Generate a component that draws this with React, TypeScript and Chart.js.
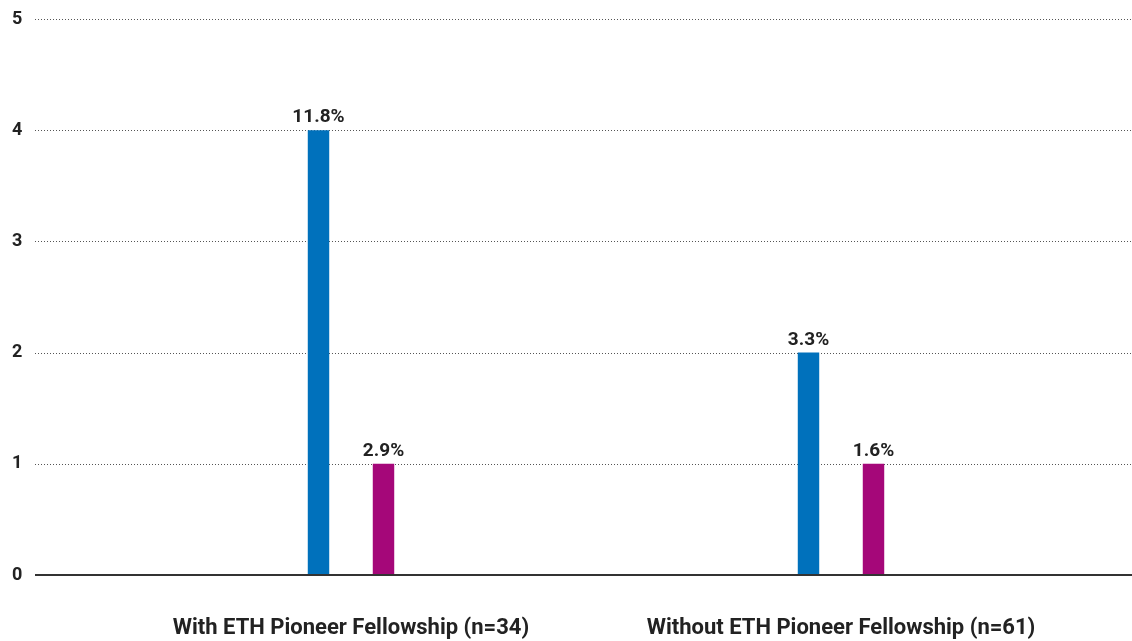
import React, { useEffect, useRef } from "react";
import { Chart, registerables } from "chart.js";

Chart.register(...registerables);

const categories = ["With ETH Pioneer Fellowship (n=34)", "Without ETH Pioneer Fellowship (n=61)"];
const blueValues = [4, 2];
const blueLabels = ["11.8%", "3.3%"];
const magentaValues = [1, 1];
const magentaLabels = ["2.9%", "1.6%"];
const yTicks = [0, 1, 2, 3, 4, 5];

const FONT = "Roboto";
const TEXT = "#222222";

const gridPlugin = {
  id: "customGrid",
  beforeDatasetsDraw(chart: any) {
    const { ctx } = chart;
    const y = chart.scales.y;
    ctx.save();
    ctx.strokeStyle = "#555555";
    ctx.lineWidth = 1;
    ctx.setLineDash([1, 2]);
    yTicks.forEach((t) => {
      if (t === 0) return;
      const py = Math.round(y.getPixelForValue(t)) + 0.5;
      ctx.beginPath();
      ctx.moveTo(35, py);
      ctx.lineTo(chart.width, py);
      ctx.stroke();
    });
    ctx.restore();
  },
  afterDatasetsDraw(chart: any) {
    const { ctx } = chart;
    const y = chart.scales.y;
    ctx.save();
    const py = y.getPixelForValue(0);
    ctx.strokeStyle = "#333333";
    ctx.lineWidth = 2;
    ctx.beginPath();
    ctx.moveTo(35, py);
    ctx.lineTo(chart.width, py);
    ctx.stroke();

    ctx.fillStyle = TEXT;
    ctx.font = `bold 19px ${FONT}`;
    ctx.textAlign = "center";
    ctx.textBaseline = "alphabetic";
    const allLabels = [blueLabels, magentaLabels];
    chart.data.datasets.forEach((_: any, di: number) => {
      const meta = chart.getDatasetMeta(di);
      meta.data.forEach((el: any, i: number) => {
        ctx.fillText(allLabels[di][i], el.x, el.y - 8);
      });
    });
    ctx.restore();
  },
};

export default function App() {
  const ref = useRef<HTMLCanvasElement>(null);
  useEffect(() => {
    if (!ref.current) return;
    const chart = new Chart(ref.current, {
      type: "bar",
      data: {
        labels: categories,
        datasets: [
          {
            data: blueValues,
            backgroundColor: "#0071BC",
            categoryPercentage: 0.2653,
            barPercentage: 0.33,
          },
          {
            data: magentaValues,
            backgroundColor: "#A50779",
            categoryPercentage: 0.2653,
            barPercentage: 0.33,
          },
        ],
      },
      options: {
        animation: false,
        responsive: false,
        maintainAspectRatio: false,
        layout: { padding: { top: 19, right: 46, left: 12, bottom: 0 } },
        plugins: { legend: { display: false }, tooltip: { enabled: false } },
        scales: {
          x: {
            grid: { display: false, drawTicks: false },
            border: { display: false },
            ticks: {
              color: TEXT,
              font: { family: FONT, size: 22, weight: "bold" },
              padding: 40,
              maxRotation: 0,
              autoSkip: false,
            },
            afterFit(scale: any) {
              scale.height = 66;
            },
          },
          y: {
            min: 0,
            max: 5,
            grid: { display: false, drawTicks: false },
            border: { display: false },
            ticks: {
              stepSize: 1,
              color: TEXT,
              font: { family: FONT, size: 18, weight: "bold" },
              padding: 0,
              crossAlign: "far",
            },
            afterFit(scale: any) {
              scale.width = 94;
            },
          },
        },
      },
      plugins: [gridPlugin],
    });
    return () => chart.destroy();
  }, []);
  return (
    <div style={{ position: "fixed", left: 0, top: 0, width: 1132, height: 641, background: "#fff" }}>
      <canvas ref={ref} width={1132} height={641} />
    </div>
  );
}
